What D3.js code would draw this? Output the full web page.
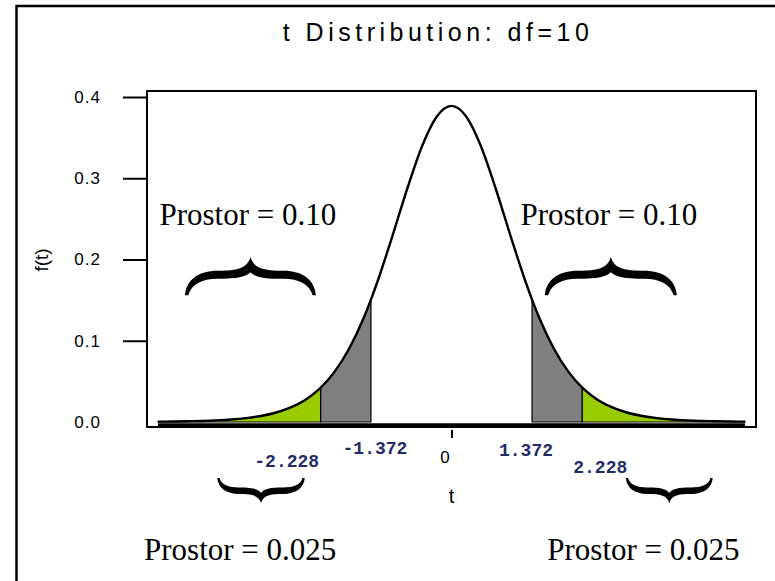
<!DOCTYPE html>
<html>
<head>
<meta charset="utf-8">
<script src="https://cdn.jsdelivr.net/npm/d3@7"></script>
<style>
  body { margin: 0; background: #fff; }
  svg { display: block; }
</style>
</head>
<body>
<svg id="chart" width="775" height="581"></svg>
<script>
// t distribution, df = 10
const tValues = [-5, -4.75, -4.5, -4.25, -4, -3.75, -3.5, -3.25, -3, -2.75, -2.5, -2.25, -2.228, -2, -1.75, -1.5, -1.372, -1.25, -1, -0.75, -0.5, -0.25,
    0, 0.25, 0.5, 0.75, 1, 1.25, 1.372, 1.5, 1.75, 2, 2.228, 2.25, 2.5, 2.75, 3, 3.25, 3.5, 3.75, 4, 4.25, 4.5, 4.75, 5];
const densityValues = [0.0004, 0.0006, 0.0009, 0.0013, 0.0020, 0.0031, 0.0048, 0.0074, 0.0114, 0.0176, 0.0269, 0.0409, 0.0424, 0.0611, 0.0895, 0.1274, 0.1507, 0.1751, 0.2304, 0.2880, 0.3397, 0.3760,
    0.3891, 0.3760, 0.3397, 0.2880, 0.2304, 0.1751, 0.1507, 0.1274, 0.0895, 0.0611, 0.0424, 0.0409, 0.0269, 0.0176, 0.0114, 0.0074, 0.0048, 0.0031, 0.0020, 0.0013, 0.0009, 0.0006, 0.0004];

const critValues = [-2.228, -1.372, 1.372, 2.228];
const critLabels = ["-2.228", "-1.372", "1.372", "2.228"];
const yTicks = [0, 0.1, 0.2, 0.3, 0.4];
const xTicks = [0];

// shaded bands: [from, to, kind]
const bands = [[-5, -2.228, "tail"], [-2.228, -1.372, "mid"], [1.372, 2.228, "mid"], [2.228, 5, "tail"]];

// area annotations, in data units
const areaLabels = ["Prostor = 0.10", "Prostor = 0.10", "Prostor = 0.025", "Prostor = 0.025"];
const areaLabelT = [-3.47, 2.68, -3.60, 3.27];
const areaLabelF = [0.2425, 0.2425, -0.1697, -0.1697];
const braceFrom = [-4.54, 1.59, -3.99, 2.97];
const braceTo = [-2.31, 3.84, -2.50, 4.45];
const braceEndF = [0.156, 0.156, -0.069, -0.069];
const braceTipF = [0.203, 0.203, -0.0997, -0.0997];

const data = tValues.map((t, i) => ({ t, f: densityValues[i] }));

const sans = "Liberation Sans, Arial, sans-serif";
const svg = d3.select("#chart");

const x = d3.scaleLinear().domain([-5, 5]).range([158, 745]);
const y = d3.scaleLinear().domain([0, 0.4]).range([422, 97]);

// outer border
svg.append("rect")
    .attr("x", 16.5).attr("y", 6)
    .attr("width", 820).attr("height", 620)
    .attr("fill", "none").attr("stroke", "#000").attr("stroke-width", 2.5);

// title
svg.append("text")
    .attr("x", 438).attr("y", 41)
    .attr("text-anchor", "middle")
    .attr("font-family", sans)
    .attr("font-size", 25)
    .attr("letter-spacing", 4.5)
    .text("t Distribution: df=10");

// plot frame
svg.append("rect")
    .attr("x", 147).attr("y", 91)
    .attr("width", 609).attr("height", 336)
    .attr("fill", "none").attr("stroke", "#000").attr("stroke-width", 2);

// shaded areas
const area = d3.area()
    .x(d => x(d.t))
    .y0(y(0))
    .y1(d => y(d.f))
    .curve(d3.curveMonotoneX);

for (const [a, b, kind] of bands) {
    svg.append("path")
        .datum(data.filter(d => d.t >= a && d.t <= b))
        .attr("d", area)
        .attr("fill", kind === "tail" ? "#99cc00" : "#808080")
        .attr("stroke", "#000")
        .attr("stroke-width", 1.2);
}

// thick baseline under the curve
svg.append("line")
    .attr("x1", x(-5)).attr("x2", x(5))
    .attr("y1", y(0) + 3).attr("y2", y(0) + 3)
    .attr("stroke", "#000").attr("stroke-width", 3.5);

// density curve
const line = d3.line()
    .x(d => x(d.t))
    .y(d => y(d.f))
    .curve(d3.curveMonotoneX);

svg.append("path")
    .datum(data)
    .attr("d", line)
    .attr("fill", "none")
    .attr("stroke", "#000")
    .attr("stroke-width", 2.4);

// y axis
const yAxis = svg.append("g")
    .attr("transform", "translate(147,0)")
    .call(d3.axisLeft(y).tickValues(yTicks).tickSize(24).tickPadding(22).tickFormat(d3.format(".1f")))
    .attr("font-family", sans)
    .attr("font-size", 17);
yAxis.select(".domain").remove();
yAxis.selectAll(".tick line")
    .attr("stroke-width", 2)
    .attr("display", d => d === 0 ? "none" : null);
yAxis.selectAll(".tick text").attr("letter-spacing", 1);

svg.append("text")
    .attr("transform", "translate(48,260) rotate(-90)")
    .attr("text-anchor", "middle")
    .attr("font-family", sans)
    .attr("font-size", 19)
    .text("f(t)");

// x axis (only the 0 tick)
const xAxis = svg.append("g")
    .attr("transform", "translate(0,430)")
    .call(d3.axisBottom(x).tickValues(xTicks).tickSize(8).tickPadding(13))
    .attr("font-family", sans)
    .attr("font-size", 17);
xAxis.select(".domain").remove();
xAxis.selectAll(".tick line").attr("stroke-width", 2);
xAxis.selectAll(".tick text").attr("dx", -7);

svg.append("text")
    .attr("x", x(0)).attr("y", 503)
    .attr("text-anchor", "middle")
    .attr("font-family", sans)
    .attr("font-size", 20)
    .text("t");

// critical value labels, nudged like the original
const critNudge = [[-34, 467], [4, 454], [-6, 456], [18, 473]];
svg.selectAll(".crit")
    .data(critValues)
    .join("text")
    .attr("class", "crit")
    .attr("x", (d, i) => x(d) + critNudge[i][0])
    .attr("y", (d, i) => critNudge[i][1])
    .attr("text-anchor", "middle")
    .attr("fill", "#1f2c66")
    .attr("font-family", "Liberation Mono, Courier New, monospace")
    .attr("font-weight", "bold")
    .attr("font-size", 18)
    .text((d, i) => critLabels[i]);

// curly braces
function bracePath(x0, x1, yEnd, yTip, thick) {
    const hw = (x1 - x0) / 2, h = yEnd - yTip;
    const dv = thick / Math.abs(h);
    const P = (u, v) => [x0 + u * hw, yTip + v * h].join(",");
    const Q = (u, v) => [x1 - u * hw, yTip + v * h].join(",");
    const so = 0.36, si = so + dv;
    return "M" + P(0, 1) +
        "C" + P(0.02, 0.6) + " " + P(0.2, so) + " " + P(0.5, so) +
        "C" + P(0.8, so) + " " + P(0.95, 0.3) + " " + P(1, 0) +
        "C" + Q(0.95, 0.3) + " " + Q(0.8, so) + " " + Q(0.5, so) +
        "C" + Q(0.2, so) + " " + Q(0.02, 0.6) + " " + Q(0, 1) +
        "L" + Q(0.05, 1) +
        "C" + Q(0.1, 0.72) + " " + Q(0.25, si) + " " + Q(0.5, si) +
        "C" + Q(0.8, si) + " " + Q(0.93, si - 0.05) + " " + Q(1, 0.4) +
        "C" + P(0.93, si - 0.05) + " " + P(0.8, si) + " " + P(0.5, si) +
        "C" + P(0.25, si) + " " + P(0.1, 0.72) + " " + P(0.05, 1) + "Z";
}

braceFrom.forEach((t0, i) => {
    svg.append("path")
        .attr("d", bracePath(x(t0), x(braceTo[i]), y(braceEndF[i]), y(braceTipF[i]), i < 2 ? 8 : 6.5))
        .attr("fill", "#000");
});

svg.selectAll(".area-label")
    .data(areaLabels)
    .join("text")
    .attr("class", "area-label")
    .attr("x", (d, i) => x(areaLabelT[i]))
    .attr("y", (d, i) => y(areaLabelF[i]))
    .attr("text-anchor", "middle")
    .attr("font-family", "Liberation Serif, Times New Roman, serif")
    .attr("font-size", 31)
    .text(d => d);
</script>
</body>
</html>
